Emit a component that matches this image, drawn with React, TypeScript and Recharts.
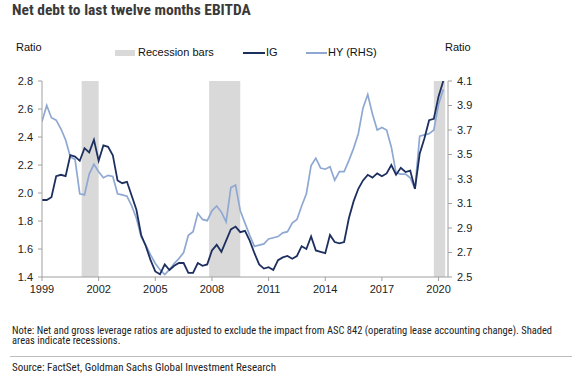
import React from 'react';
import { ComposedChart, Line, XAxis, YAxis, ReferenceArea, Legend } from 'recharts';

// quarterly observations, 1999Q1 .. 2020Q2
const startYear = 1999;

const igRatio = [
  1.95, 1.95, 1.97, 2.12, 2.13, 2.12, 2.27, 2.26, 2.23, 2.32, 2.29, 2.38, 2.23, 2.34, 2.33, 2.27,
  2.09, 2.07, 2.08, 1.98, 1.88, 1.70, 1.62, 1.52, 1.44, 1.42, 1.49, 1.45, 1.48, 1.50, 1.50, 1.43,
  1.43, 1.50, 1.48, 1.49, 1.59, 1.63, 1.58, 1.66, 1.74, 1.76, 1.72, 1.73, 1.66, 1.57, 1.49, 1.46,
  1.47, 1.45, 1.52, 1.54, 1.55, 1.53, 1.55, 1.62, 1.60, 1.69, 1.59, 1.58, 1.57, 1.70, 1.65, 1.64,
  1.65, 1.82, 1.94, 2.03, 2.09, 2.13, 2.11, 2.14, 2.12, 2.14, 2.20, 2.13, 2.18, 2.15, 2.16, 2.03,
  2.28, 2.39, 2.52, 2.53, 2.69, 2.80,
];

const hyRatio = [
  3.77, 3.90, 3.80, 3.78, 3.71, 3.62, 3.48, 3.46, 3.18, 3.17, 3.34, 3.42, 3.36, 3.31, 3.33, 3.32,
  3.18, 3.17, 3.16, 3.08, 2.98, 2.83, 2.76, 2.68, 2.61, 2.56, 2.52, 2.56, 2.61, 2.65, 2.70, 2.84,
  2.87, 3.02, 2.97, 2.96, 3.04, 3.08, 3.03, 2.95, 3.23, 3.25, 3.04, 2.94, 2.84, 2.75, 2.76, 2.77,
  2.81, 2.82, 2.83, 2.86, 2.87, 2.94, 2.97, 3.08, 3.18, 3.41, 3.47, 3.39, 3.38, 3.40, 3.29, 3.36,
  3.36, 3.45, 3.55, 3.67, 3.88, 3.99, 3.83, 3.70, 3.72, 3.70, 3.56, 3.35, 3.34, 3.34, 3.31, 3.22,
  3.65, 3.66, 3.67, 3.70, 3.91, 4.03,
];

const recessions = [
  { from: 2001.1, to: 2002.0 },
  { from: 2007.85, to: 2009.5 },
  { from: 2019.75, to: 2020.35 },
];

const yearTicks = [1999, 2002, 2005, 2008, 2011, 2014, 2017, 2020];
const leftTicks = [1.4, 1.6, 1.8, 2.0, 2.2, 2.4, 2.6, 2.8];
const rightTicks = [2.5, 2.7, 2.9, 3.1, 3.3, 3.5, 3.7, 3.9, 4.1];

const data = igRatio.map((v, i) => ({ t: startYear + i / 4, ig: v, hy: hyRatio[i] }));

const IG_COLOR = '#1d2f5f';
const HY_COLOR = '#8fa8d2';
const BAR_COLOR = '#d9d9d9';
const AXIS_COLOR = '#a0a0a0';
const FONT = '"Liberation Sans", Arial, sans-serif';
const NARROW = '"Liberation Sans Narrow", "Arial Narrow", "Roboto Condensed", sans-serif';

const tickStyle = { fontSize: 11, fill: '#222', fontFamily: FONT };

const renderLegend = () => (
  <div style={{ position: 'relative', height: 14, fontFamily: FONT, fontSize: 11, color: '#111' }}>
    <div style={{ position: 'absolute', left: 115, top: 4, width: 20, height: 6, background: BAR_COLOR }} />
    <span style={{ position: 'absolute', left: 138, top: 0 }}>Recession bars</span>
    <div style={{ position: 'absolute', left: 243, top: 6, width: 22, height: 2, background: IG_COLOR }} />
    <span style={{ position: 'absolute', left: 266, top: 0 }}>IG</span>
    <div style={{ position: 'absolute', left: 306, top: 6, width: 21, height: 2, background: HY_COLOR }} />
    <span style={{ position: 'absolute', left: 328, top: 0 }}>HY (RHS)</span>
  </div>
);

export default function App() {
  return (
    <div style={{ position: 'absolute', left: 0, top: 0, width: 572, height: 374, background: '#fff', overflow: 'hidden' }}>
      <div style={{ position: 'absolute', left: 12, top: 1, fontFamily: NARROW, fontSize: 15.5, fontWeight: 'bold', color: '#3a3a3a' }}>
        Net debt to last twelve months EBITDA
      </div>
      <div style={{ position: 'absolute', left: 16, top: 41, fontFamily: FONT, fontSize: 11, color: '#111' }}>Ratio</div>
      <div style={{ position: 'absolute', left: 445, top: 41, fontFamily: FONT, fontSize: 11, color: '#111' }}>Ratio</div>

      <div style={{ position: 'absolute', left: 0, top: 0 }}>
        <ComposedChart width={572} height={300} data={data} margin={{ top: 67, right: 84, bottom: 0, left: 0 }}>
          {recessions.map((r, i) => (
            <ReferenceArea
              key={`rec-${i}`}
              yAxisId="left"
              x1={r.from}
              x2={r.to}
              y1={1.4}
              y2={2.8}
              fill={BAR_COLOR}
              fillOpacity={1}
              stroke="none"
            />
          ))}
          <XAxis
            dataKey="t"
            type="number"
            domain={[1999, 2020.5]}
            ticks={yearTicks}
            allowDataOverflow
            height={23}
            tick={tickStyle}
            tickSize={4}
            tickMargin={4}
            stroke={AXIS_COLOR}
          />
          <YAxis
            yAxisId="left"
            domain={[1.4, 2.8]}
            ticks={leftTicks}
            width={42}
            tick={tickStyle}
            tickSize={4}
            tickMargin={5}
            tickFormatter={(v: number) => v.toFixed(1)}
            stroke={AXIS_COLOR}
            allowDataOverflow
          />
          <YAxis
            yAxisId="right"
            orientation="right"
            domain={[2.5, 4.1]}
            ticks={rightTicks}
            width={40}
            tick={tickStyle}
            tickSize={4}
            tickMargin={5}
            tickFormatter={(v: number) => v.toFixed(1)}
            stroke={AXIS_COLOR}
            allowDataOverflow
          />
          <Legend verticalAlign="top" content={renderLegend} wrapperStyle={{ top: 46, left: 0, width: 572 }} />
          <Line yAxisId="right" dataKey="hy" stroke={HY_COLOR} strokeWidth={1.7} dot={false} isAnimationActive={false} />
          <Line yAxisId="left" dataKey="ig" stroke={IG_COLOR} strokeWidth={1.8} dot={false} isAnimationActive={false} />
        </ComposedChart>
      </div>

      <div style={{ position: 'absolute', left: 12, top: 326, fontFamily: NARROW, fontSize: 10.5, lineHeight: '10px', color: '#222', width: 558 }}>
        Note: Net and gross leverage ratios are adjusted to exclude the impact from ASC 842 (operating lease accounting change). Shaded areas indicate recessions.
      </div>
      <div style={{ position: 'absolute', left: 10, top: 356, width: 562, height: 1, background: '#bdbdbd' }} />
      <div style={{ position: 'absolute', left: 12, top: 362, fontFamily: NARROW, fontSize: 11, lineHeight: '11px', color: '#222' }}>
        Source: FactSet, Goldman Sachs Global Investment Research
      </div>
    </div>
  );
}
